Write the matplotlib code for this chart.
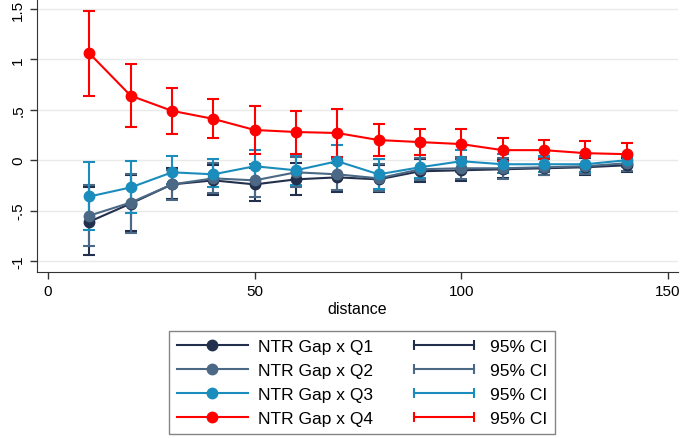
import numpy as np
import matplotlib
matplotlib.use('Agg')
import matplotlib.pyplot as plt
from matplotlib.lines import Line2D
from matplotlib.legend_handler import HandlerLine2D

plt.rcParams['font.family'] = ['Liberation Sans', 'DejaVu Sans']

distance = [10, 20, 30, 40, 50, 60, 70, 80, 90, 100, 110, 120, 130, 140]

q1 = [-0.61, -0.43, -0.24, -0.20, -0.24, -0.19, -0.17, -0.19, -0.11, -0.10, -0.09, -0.08, -0.07, -0.05]
q1_hi = [-0.27, -0.15, -0.08, -0.05, -0.08, -0.03, -0.03, -0.05, 0.01, 0.02, 0.01, 0.01, 0.02, 0.02]
q1_lo = [-0.94, -0.70, -0.38, -0.35, -0.40, -0.35, -0.32, -0.32, -0.22, -0.21, -0.18, -0.15, -0.15, -0.12]

q2 = [-0.55, -0.42, -0.24, -0.18, -0.20, -0.12, -0.14, -0.18, -0.09, -0.08, -0.08, -0.07, -0.06, -0.03]
q2_hi = [-0.25, -0.14, -0.10, -0.03, -0.04, 0.03, 0.01, -0.04, 0.02, 0.03, 0.02, 0.02, 0.03, 0.04]
q2_lo = [-0.85, -0.72, -0.39, -0.33, -0.37, -0.27, -0.30, -0.31, -0.20, -0.19, -0.19, -0.15, -0.14, -0.11]

q3 = [-0.36, -0.27, -0.12, -0.14, -0.06, -0.10, -0.01, -0.14, -0.07, -0.01, -0.04, -0.04, -0.04, 0.00]
q3_hi = [-0.02, -0.01, 0.04, 0.01, 0.10, 0.05, 0.15, 0.01, 0.05, 0.10, 0.06, 0.04, 0.04, 0.05]
q3_lo = [-0.69, -0.52, -0.24, -0.27, -0.20, -0.25, -0.15, -0.29, -0.18, -0.12, -0.13, -0.12, -0.12, -0.07]

q4 = [1.06, 0.64, 0.49, 0.41, 0.30, 0.28, 0.27, 0.20, 0.18, 0.16, 0.10, 0.10, 0.07, 0.06]
q4_hi = [1.48, 0.95, 0.72, 0.61, 0.54, 0.49, 0.51, 0.36, 0.31, 0.31, 0.22, 0.20, 0.19, 0.17]
q4_lo = [0.64, 0.33, 0.26, 0.22, 0.06, 0.06, 0.03, 0.04, 0.05, 0.01, -0.01, 0.01, -0.04, -0.05]

labels = ['NTR Gap x Q1', 'NTR Gap x Q2', 'NTR Gap x Q3', 'NTR Gap x Q4']
colors = ['#22304d', '#4b6884', '#1a8dbd', '#ff0000']
series = [(q1, q1_lo, q1_hi), (q2, q2_lo, q2_hi), (q3, q3_lo, q3_hi), (q4, q4_lo, q4_hi)]

fig = plt.figure(figsize=(6.97, 4.39), dpi=100)
ax = fig.add_axes([0.053, 0.378, 0.92, 0.622])

x = np.array(distance)
for (m, lo, hi), c in zip(series, colors):
    m = np.array(m)
    err = [m - np.array(lo), np.array(hi) - m]
    ax.errorbar(x, m, yerr=err, fmt='none', ecolor=c, elinewidth=1.5,
                capsize=4, capthick=1.5, zorder=2)
    ax.plot(x, m, color=c, lw=1.5, marker='o', markersize=7.5, zorder=3)

ax.set_xlim(-2.7, 152.5)
ax.set_ylim(-1.11, 1.6)
ax.set_xticks([0, 50, 100, 150])
ax.set_yticks([-1, -0.5, 0, 0.5, 1, 1.5])
ax.set_yticklabels(['-1', '-.5', '0', '.5', '1', '1.5'], rotation=90, va='center')
ax.tick_params(labelsize=11, length=5, width=1, color='#333333')
ax.grid(axis='y', color='#eaeaea', lw=1)
ax.set_axisbelow(True)
for s in ['top', 'right']:
    ax.spines[s].set_visible(False)
for s in ['left', 'bottom']:
    ax.spines[s].set_color('#333333')
ax.set_xlabel('distance', fontsize=11.5, labelpad=2)

handles = []
for c, lab in zip(colors, labels):
    handles.append(Line2D([], [], color=c, lw=1.5, marker='o', markersize=7.5, label=lab))
ci_handles = []
for c in colors:
    ci_handles.append(Line2D([], [], color=c, lw=1.5, marker='|', markersize=7,
                             markeredgewidth=1.5, label='95% CI'))
hmap = {h: HandlerLine2D(numpoints=2) for h in ci_handles}
leg = fig.legend(handles + ci_handles, labels + ['95% CI'] * 4, ncol=2,
                 loc='center', bbox_to_anchor=(362 / 697, 1 - 383.5 / 439),
                 fontsize=12.5, frameon=True, fancybox=False, handlelength=4.1,
                 handletextpad=0.6, numpoints=1, handler_map=hmap,
                 columnspacing=2.0, labelspacing=0.52, borderpad=0.45,
                 borderaxespad=0)
leg.get_frame().set_edgecolor('#666666')
leg.get_frame().set_linewidth(1)

fig.savefig('out.png', dpi=100)
